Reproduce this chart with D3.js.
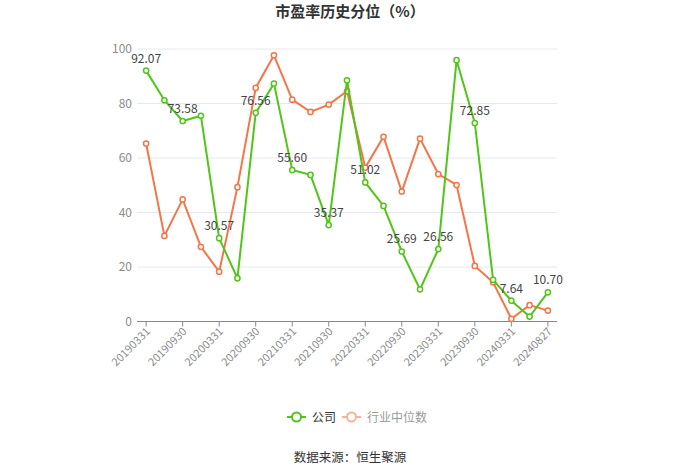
<!DOCTYPE html>
<html><head><meta charset="utf-8">
<script src="https://cdn.jsdelivr.net/npm/d3@7"></script>
<style>body{margin:0;background:#fff}svg{font-family:"Noto Sans CJK SC","Noto Sans",sans-serif}</style>
</head><body><svg id="c" width="700" height="474"></svg>
<script>
const categories = ["20190331","20190630","20190930","20191231","20200331","20200630","20200930","20201231","20210331","20210630","20210930","20211231","20220331","20220630","20220930","20221231","20230331","20230630","20230930","20231231","20240331","20240630","20240827"];
const company = [92.07,81.2,73.58,75.5,30.57,15.9,76.56,87.3,55.60,53.8,35.37,88.5,51.02,42.4,25.69,11.8,26.56,95.9,72.85,15.3,7.64,1.8,10.70];
const industry = [65.3,31.4,44.8,27.4,18.3,49.3,85.7,97.7,81.4,76.9,79.6,84.5,56.5,67.8,47.7,67.1,54.1,50.1,20.4,14.4,1.0,6.0,4.0];
const yTicks = [0,20,40,60,80,100];
const xTickLabels = ["20190331","20190930","20200331","20200930","20210331","20210930","20220331","20220930","20230331","20230930","20240331","20240827"];
const seriesNames = ["公司","行业中位数"];
const colors = ["#52c41a","#f4754a"];

const svg = d3.select("#c");
const L=137,R=557,T=49,B=321.5;
const x = d3.scaleBand().domain(categories).range([L,R]);
const y = d3.scaleLinear().domain([0,100]).range([B,T]);
const cx = d => x(d)+x.bandwidth()/2;

svg.append("text").attr("x",350).attr("y",17).attr("text-anchor","middle")
  .attr("font-size",15).attr("font-weight","bold").attr("fill","#333").text("市盈率历史分位（%）");

// grid
svg.append("g").selectAll("line").data(yTicks.filter(d=>d>0)).join("line")
  .attr("x1",L).attr("x2",R).attr("y1",d=>y(d)).attr("y2",d=>y(d))
  .attr("stroke","#e6e8ef").attr("stroke-width",1);
// y labels
svg.append("g").selectAll("text").data(yTicks).join("text")
  .attr("x",L-5).attr("y",d=>y(d)+4).attr("text-anchor","end")
  .attr("font-size",12).attr("fill","#8c8c8c").text(d=>d);

// x axis
const xa = svg.append("g").attr("transform",`translate(0,${B})`);
xa.append("line").attr("x1",L).attr("x2",R).attr("stroke","#888");
const xl = xa.selectAll("g").data(xTickLabels).join("g").attr("transform",d=>`translate(${cx(d)},0)`);
xl.append("line").attr("y2",5).attr("stroke","#888");
xl.append("text").attr("transform","translate(2,8) rotate(-45)").attr("text-anchor","end")
  .attr("dy","0.35em").attr("font-size",11).attr("fill","#8c8c8c").text(d=>d);

const line = d3.line().x((d,i)=>cx(categories[i])).y(d=>y(d));
[industry, company].forEach((data,k)=>{
  const col = k===0?colors[1]:colors[0];
  svg.append("path").datum(data).attr("d",line).attr("fill","none").attr("stroke",col).attr("stroke-width",2);
  svg.append("g").selectAll("circle").data(data).join("circle")
    .attr("cx",(d,i)=>cx(categories[i])).attr("cy",d=>y(d)).attr("r",2.6)
    .attr("fill","#fff").attr("stroke",col).attr("stroke-width",1.5);
});
// labels for company
svg.append("g").selectAll("text").data(company.map((v,i)=>({v,i})).filter(d=>d.i%2===0)).join("text")
  .attr("x",d=>cx(categories[d.i])).attr("y",d=>y(d.v)-8).attr("text-anchor","middle")
  .attr("font-size",12).attr("fill","#444").text(d=>d.v.toFixed(2));

// legend
const lg = svg.append("g").attr("transform","translate(0,417)");
const items=[{x:287,c:colors[0],t:seriesNames[0],tc:"#333",o:1},{x:342,c:colors[1],t:seriesNames[1],tc:"#999",o:0.55}];
items.forEach(it=>{
  const g=lg.append("g").attr("opacity",it.o);
  g.append("line").attr("x1",it.x).attr("x2",it.x+19).attr("stroke",it.c).attr("stroke-width",2);
  g.append("circle").attr("cx",it.x+9.5).attr("r",4.5).attr("fill","#fff").attr("stroke",it.c).attr("stroke-width",2);
  lg.append("text").attr("x",it.x+25).attr("y",4.5).attr("font-size",12).attr("fill",it.tc).text(it.t);
});

svg.append("text").attr("x",350).attr("y",462).attr("text-anchor","middle")
  .attr("font-size",12.5).attr("fill","#333").text("数据来源：恒生聚源");
</script></body></html>
